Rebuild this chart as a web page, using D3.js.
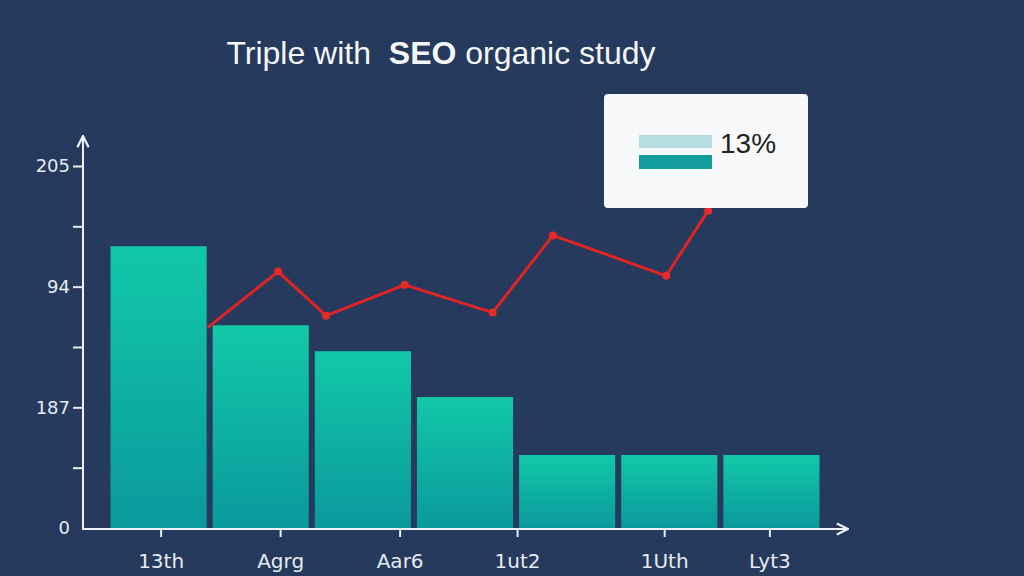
<!DOCTYPE html>
<html>
<head>
<meta charset="utf-8">
<script src="https://cdn.jsdelivr.net/npm/d3@7"></script>
<style>
  html, body { margin: 0; padding: 0; background: #253a5c; }
  svg { display: block; }
</style>
</head>
<body>
<div id="chart"></div>
<script>
// values (y in axis units, one unit per tick)
const barIndex = [0, 1, 2, 3, 4, 5, 6];
const barValues = [4.67, 3.36, 2.93, 2.17, 1.21, 1.21, 1.21];

const lineAt = [0.98, 1.67, 2.14, 2.91, 3.77, 4.36, 5.47, 5.88];
const lineValues = [3.32, 4.25, 3.52, 4.03, 3.57, 4.85, 4.18, 5.26];

const yTickValues = [0, 1, 2, 3, 4, 5, 6];
const yTickLabels = ['0', '', '187', '', '94', '', '205'];

const xTickAt = [0.52, 1.69, 2.86, 4.01, 5.45, 6.48];
const xTickLabels = ['13th', 'Agrg', 'Aar6', '1ut2', '1Uth', 'Lyt3'];

const legendLabel = '13%';

const width = 1024, height = 576;

const svg = d3.select('#chart')
  .append('svg')
  .attr('width', width)
  .attr('height', height);

svg.append('rect')
  .attr('width', width)
  .attr('height', height)
  .attr('fill', '#253a5c');

const defs = svg.append('defs');

const grad = defs.append('linearGradient')
  .attr('id', 'barGrad')
  .attr('x1', 0).attr('y1', 0)
  .attr('x2', 0).attr('y2', 1);
grad.append('stop').attr('offset', '0%').attr('stop-color', '#12c8a9');
grad.append('stop').attr('offset', '100%').attr('stop-color', '#0a999c');

const arrow = defs.append('marker')
  .attr('id', 'arrow')
  .attr('viewBox', '0 0 10 10')
  .attr('refX', 9).attr('refY', 5)
  .attr('markerWidth', 14).attr('markerHeight', 14)
  .attr('markerUnits', 'userSpaceOnUse')
  .attr('orient', 'auto');
arrow.append('path')
  .attr('d', 'M1,1 L9,5 L1,9')
  .attr('fill', 'none')
  .attr('stroke', '#eef2f6')
  .attr('stroke-width', 1.6);

// Title
const title = svg.append('text')
  .attr('x', 441)
  .attr('y', 64)
  .attr('text-anchor', 'middle')
  .attr('font-family', 'Liberation Sans, Arial, sans-serif')
  .attr('font-size', '32px')
  .attr('fill', '#f4f6f8');
title.append('tspan').text('Triple with\u00a0\u00a0');
title.append('tspan').attr('font-weight', 'bold').text('SEO');
title.append('tspan').text(' organic study');

// Scales
const x = d3.scaleLinear()
  .domain([0, 7])
  .range([107.5, 822.5]);

const y = d3.scaleLinear()
  .domain([0, 6])
  .range([528, 166]);

const axisX0 = 83;
const axisY0 = 529;

// Bars
svg.append('g')
  .selectAll('rect')
  .data(barIndex)
  .enter()
  .append('rect')
  .attr('x', d => x(d) + 3)
  .attr('width', d => x(d + 1) - x(d) - 6)
  .attr('y', d => y(barValues[d]))
  .attr('height', d => axisY0 - y(barValues[d]))
  .attr('fill', 'url(#barGrad)');

// Y axis
const yAxisCall = d3.axisLeft(y)
  .tickValues(yTickValues)
  .tickSize(10)
  .tickPadding(3)
  .tickFormat((d, i) => yTickLabels[i]);

const yAxis = svg.append('g')
  .attr('class', 'y axis-left')
  .attr('transform', 'translate(' + axisX0 + ', 0)')
  .call(yAxisCall);
yAxis.select('.domain').remove();
yAxis.selectAll('line')
  .attr('stroke', '#e6ecf2')
  .attr('stroke-width', 2)
  .attr('opacity', d => d === 0 ? 0 : 1);
yAxis.selectAll('text')
  .attr('fill', '#e6ecf2')
  .attr('font-family', 'DejaVu Sans, sans-serif')
  .attr('font-size', '18px');

// X axis
const xAxisCall = d3.axisBottom(x)
  .tickValues(xTickAt)
  .tickSize(8)
  .tickPadding(17)
  .tickFormat((d, i) => xTickLabels[i]);

const xAxis = svg.append('g')
  .attr('class', 'x axis-bottom')
  .attr('transform', 'translate(0, ' + axisY0 + ')')
  .call(xAxisCall);
xAxis.select('.domain').remove();
xAxis.selectAll('line')
  .attr('stroke', '#e6ecf2')
  .attr('stroke-width', 2);
xAxis.selectAll('text')
  .attr('fill', '#e6ecf2')
  .attr('font-family', 'DejaVu Sans, sans-serif')
  .attr('font-size', '20px');

// Axis lines with arrows
svg.append('line')
  .attr('x1', axisX0).attr('y1', axisY0 + 1)
  .attr('x2', axisX0).attr('y2', 136)
  .attr('stroke', '#eef2f6')
  .attr('stroke-width', 2)
  .attr('marker-end', 'url(#arrow)');

svg.append('line')
  .attr('x1', axisX0 - 1).attr('y1', axisY0)
  .attr('x2', 848).attr('y2', axisY0)
  .attr('stroke', '#eef2f6')
  .attr('stroke-width', 2)
  .attr('marker-end', 'url(#arrow)');

// Red line
const linePts = lineAt.map((p, i) => [p, lineValues[i]]);

const line = d3.line()
  .x(d => x(d[0]))
  .y(d => y(d[1]));

svg.append('path')
  .datum(linePts)
  .attr('d', line)
  .attr('fill', 'none')
  .attr('stroke', '#e02424')
  .attr('stroke-width', 3)
  .attr('stroke-linejoin', 'round');

svg.append('g')
  .selectAll('circle')
  .data(linePts.slice(1))
  .enter()
  .append('circle')
  .attr('cx', d => x(d[0]))
  .attr('cy', d => y(d[1]))
  .attr('r', 4)
  .attr('fill', '#e52a2a');

// Legend box
const legend = svg.append('g')
  .attr('transform', 'translate(604, 94)');

legend.append('rect')
  .attr('width', 204)
  .attr('height', 114)
  .attr('rx', 4)
  .attr('fill', '#f7f9fa');

legend.append('rect')
  .attr('x', 35).attr('y', 41)
  .attr('width', 73).attr('height', 13)
  .attr('fill', '#b3dfdf');

legend.append('rect')
  .attr('x', 35).attr('y', 61)
  .attr('width', 73).attr('height', 14)
  .attr('fill', '#139d9c');

legend.append('text')
  .attr('x', 116)
  .attr('y', 59)
  .attr('font-family', 'Liberation Sans, Arial, sans-serif')
  .attr('font-size', '28px')
  .attr('fill', '#222')
  .text(legendLabel);
</script>
</body>
</html>
